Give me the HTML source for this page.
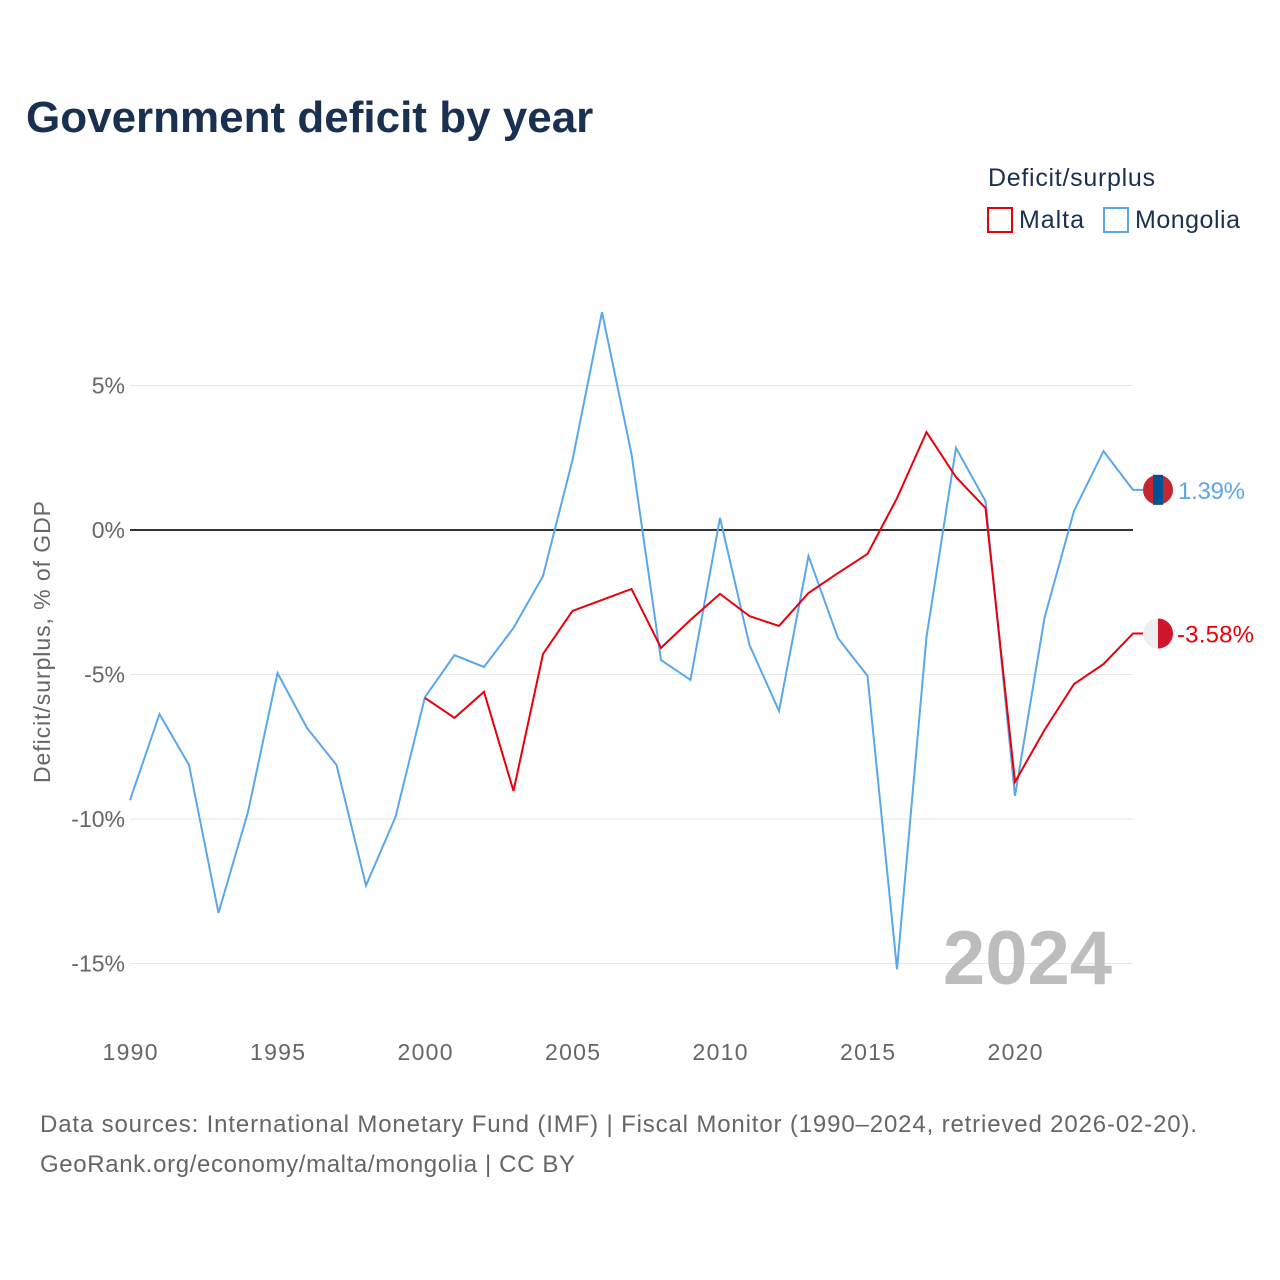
<!DOCTYPE html>
<html><head><meta charset="utf-8"><style>
body{margin:0;background:#fff;font-family:"Liberation Sans",sans-serif}
#wrap{position:relative;width:1280px;height:1280px;overflow:hidden}
</style></head><body>
<div id="wrap">
<svg id="chart" width="1280" height="1280">
<text x="26" y="132" font-size="44" font-weight="bold" fill="#1a3050">Government deficit by year</text>
<text x="988" y="186" font-size="25" fill="#1a3050" textLength="167">Deficit/surplus</text>
<g><rect x="988" y="208" width="24" height="24" fill="none" stroke="#e8000b" stroke-width="2"/><text x="1019" y="228" font-size="25" fill="#1a3050" textLength="65">Malta</text></g>
<g><rect x="1104" y="208" width="24" height="24" fill="none" stroke="#5ba7ea" stroke-width="2"/><text x="1135" y="228" font-size="25" fill="#1a3050" textLength="105">Mongolia</text></g>
<text transform="translate(50,642) rotate(-90)" text-anchor="middle" font-size="23" fill="#666" textLength="282">Deficit/surplus, % of GDP</text>
<g id="grid"></g><g id="lines"></g>
<text x="1112" y="984" text-anchor="end" font-size="76" font-weight="bold" fill="#bdbdbd">2024</text>
<text x="40" y="1132" font-size="24" fill="#666" textLength="1157">Data sources: International Monetary Fund (IMF) | Fiscal Monitor (1990–2024, retrieved 2026-02-20).</text>
<text x="40" y="1172" font-size="24" fill="#666" textLength="535">GeoRank.org/economy/malta/mongolia | CC BY</text>
</svg></div>
<script>
const years=[];for(let y=1990;y<=2024;y++)years.push(y);
const mongolia=[-9.35,-6.37,-8.13,-13.25,-9.76,-4.95,-6.85,-8.13,-12.3,-9.93,-5.78,-4.33,-4.74,-3.39,-1.59,2.42,7.54,2.63,-4.5,-5.19,0.42,-3.98,-6.26,-0.9,-3.74,-5.05,-15.2,-3.7,2.84,1.0,-9.2,-3.04,0.66,2.73,1.39];
const malta=[null,null,null,null,null,null,null,null,null,null,-5.81,-6.5,-5.6,-9.03,-4.29,-2.8,-2.42,-2.04,-4.08,-3.11,-2.21,-2.98,-3.32,-2.18,-1.49,-0.83,1.1,3.39,1.83,0.76,-8.72,-6.92,-5.33,-4.64,-3.58];
const yTicks=[5,0,-5,-10,-15];
const xTicks=[1990,1995,2000,2005,2010,2015,2020];
const NS='http://www.w3.org/2000/svg';
const X=y=>130+(y-1990)*29.5;
const Y=v=>530-v*28.9;
function mk(t,a,p){const e=document.createElementNS(NS,t);for(const k in a)e.setAttribute(k,a[k]);p.appendChild(e);return e;}
const g=document.getElementById('grid'),L=document.getElementById('lines');
yTicks.forEach(v=>{
 const l=mk('line',{x1:130,x2:1133,y1:Y(v),y2:Y(v),stroke:v===0?'#333':'#e6e6e6','stroke-width':v===0?2:1},g);
 
 
 const t=mk('text',{x:125,y:Y(v)+8,'text-anchor':'end','font-size':23,fill:'#666'},g);
 t.textContent=v+'%';
 
 
});
xTicks.forEach(y=>{
 const t=mk('text',{x:X(y),y:1060,'text-anchor':'middle','font-size':23,fill:'#666',textLength:55},g);
 t.textContent=y;
 
 
});
function line(data,color,name){
 let d='';data.forEach((v,i)=>{if(v==null)return;d+=(d?'L':'M')+X(years[i])+','+Y(v);});
 const last=data[data.length-1];d+='L'+(X(2024)+10)+','+Y(last);
 const p=mk('path',{d:d,fill:'none',stroke:color,'stroke-width':2},L);
 
 
 return last;
}
const ml=line(mongolia,'#5ba7ea','mongolia');
const mt=line(malta,'#e8000b','malta');
const fy1=Y(ml),fy2=Y(mt);
const f1=mk('g',{},L);


mk('circle',{cx:1158,cy:fy1,r:15,fill:'#c4272f'},f1);
mk('rect',{x:1153,y:fy1-15,width:10,height:30,fill:'#015197'},f1);
const f2=mk('g',{},L);


mk('circle',{cx:1158,cy:fy2,r:15,fill:'#eeeeee'},f2);
mk('path',{d:`M1158,${fy2-15}A15,15 0 0 1 1158,${fy2+15}Z`,fill:'#cf142b'},f2);
const t1=mk('text',{x:1178,y:fy1+9,'font-size':24,fill:'#5ba7ea',textLength:67},L);
t1.textContent=ml.toFixed(2)+'%';


const t2=mk('text',{x:1177,y:fy2+9,'font-size':24,fill:'#e8000b',textLength:77},L);
t2.textContent=mt.toFixed(2)+'%';


</script>
</body></html>
